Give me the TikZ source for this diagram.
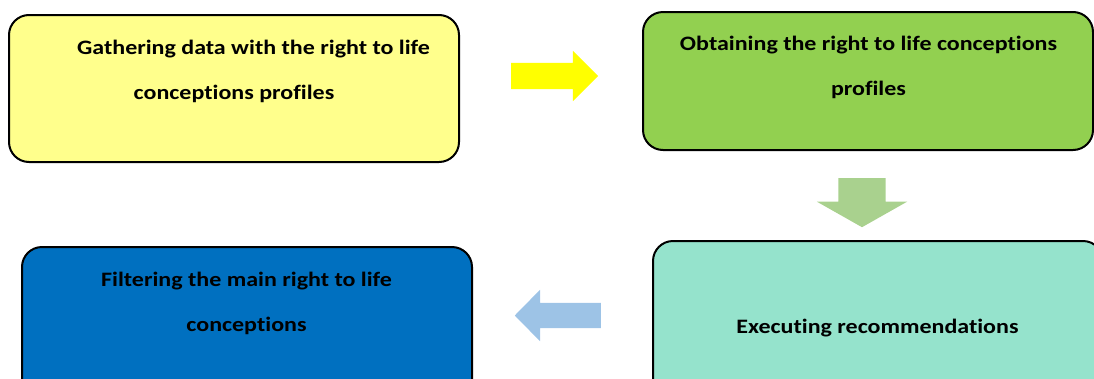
\documentclass[tikz,border=0pt]{standalone}
\usepackage{fontspec}
\setmainfont{Carlito}
\newfontfamily\stagefont[FakeStretch=1.17, Ligatures=NoCommon]{Carlito}
\usetikzlibrary{shapes.arrows}
\definecolor{boxyellow}{HTML}{FFFF8C}
\definecolor{boxgreen}{HTML}{92D050}
\definecolor{boxteal}{HTML}{95E3CC}
\definecolor{boxblue}{HTML}{0070C0}
\definecolor{arryellow}{HTML}{FFFF00}
\definecolor{arrgreen}{HTML}{A9D18E}
\definecolor{arrblue}{HTML}{9DC3E6}
\tikzset{
  stagebox/.style={draw=black, line width=2pt, rounded corners=20pt, minimum width=#1, inner sep=0pt, outer sep=0pt},
  stagetext/.style={align=center, font=\stagefont\bfseries\fontsize{20.5}{45}\selectfont, inner sep=0pt},
  blockarrow/.style={single arrow, draw=none, fill=#1, inner sep=0pt, outer sep=0pt, single arrow head indent=0pt}
}
\begin{document}
\begin{tikzpicture}[x=1pt,y=-1pt]
\useasboundingbox (0,0) rectangle (1094,378);
\clip (0,0) rectangle (1094,378);
% boxes
\node[stagebox=450pt, fill=boxyellow, minimum height=147pt] (b1) at (234,88.5) {};
\node[stagebox=450pt, fill=boxgreen, minimum height=138pt] (b2) at (868,81) {};
\node[stagebox=450pt, fill=boxteal, minimum height=160pt] (b3) at (878,321) {};
\node[stagebox=450pt, fill=boxblue, minimum height=160pt] (b4) at (247,327) {};
% texts
\node[stagetext] (t1) at (234,71) {\hspace*{39pt}Gathering data with the right to life\\conceptions profiles};
\node[stagetext] (t2) at (868.5,67.5) {Obtaining the right to life conceptions\\profiles};
\node[stagetext] (t3) at (877.5,328.5) {Executing recommendations};
\node[stagetext] (t4) at (246.5,303) {Filtering the main right to life\\conceptions};
% arrows
\node[blockarrow=arryellow, minimum height=87pt, minimum width=50pt, single arrow head extend=12pt, single arrow tip angle=90] (a1) at (548,76) {\rule{0pt}{26pt}};
\node[blockarrow=arrgreen, minimum height=49pt, minimum width=90pt, single arrow head extend=21.5pt, single arrow tip angle=121, shape border rotate=270] (a2) at (862,196) {\rule{47pt}{0pt}};
\node[blockarrow=arrblue, minimum height=86pt, minimum width=51pt, single arrow head extend=13pt, single arrow tip angle=91, shape border rotate=180] (a3) at (564,315.5) {\rule{0pt}{25pt}};
\end{tikzpicture}
\end{document}
